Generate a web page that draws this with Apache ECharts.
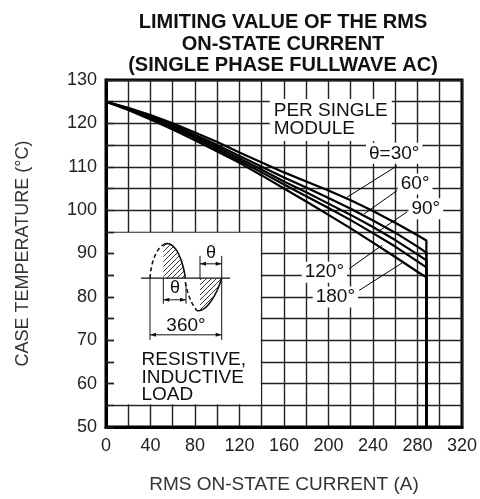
<!DOCTYPE html>
<html><head><meta charset="utf-8">
<script src="https://cdn.jsdelivr.net/npm/echarts@6/dist/echarts.min.js"></script>
<style>html,body{margin:0;padding:0;background:#fff}#c{width:480px;height:499px}</style>
</head><body><div id="c"></div>
<script>
const FONT = "'Liberation Sans', Arial, Helvetica, sans-serif";
const currents = [0,20,40,60,80,100,120,140,160,180,200,220,240,260,280,288];
const curve30  = [125,123.6,121.9,120.0,117.9,115.7,113.3,111.0,108.7,106.6,104.5,102.3,99.8,97.1,94.2,93.0];
const curve60  = [125,123.5,121.6,119.6,117.4,115.0,112.5,110.0,107.5,105.2,102.8,100.3,97.6,94.8,91.6,90.2];
const curve90  = [125,123.4,121.4,119.3,117.0,114.5,111.9,109.3,106.6,104.1,101.5,98.9,96.1,93.1,89.8,88.4];
const curve120 = [125,123.3,121.2,119.0,116.6,114.0,111.4,108.7,105.9,103.2,100.5,97.7,94.7,91.6,88.2,86.8];
const curve180 = [125,123.1,120.9,118.6,116.1,113.5,110.9,108.0,105.0,102.0,98.9,95.8,92.5,89.2,85.8,84.5];
const cutoffCurrent = 288;
const yMin = 50, yMax = 130, xMin = 0, xMax = 320;
const seriesNames = ['θ=30°','60°','90°','120°','180°'];
const seriesVals = [curve30, curve60, curve90, curve120, curve180];
// leader lines [labelEnd, curveEnd] in data coords
const leaders = [
  [[261.6,110.2],[216.8,103.0]],
  [[261.6,104.5],[232.0,99.1]],
  [[270.6,99.6],[245.5,95.2]],
  [[218.6,86.5],[248.2,91.9]],
  [[227.6,81.5],[266.1,87.8]]
];
// label centers in data coords
const labelPos = [[259.1,113.1],[277.9,106.0],[287.5,100.3],[196.3,85.7],[206.2,80.0]];

const chart = echarts.init(document.getElementById('c'));
const series = seriesVals.map((v,i)=>({
  name: seriesNames[i], type:'line', symbol:'none', z:5,
  lineStyle:{color:'#000', width:2.2},
  data: currents.map((x,j)=>[x, v[j]]).concat([[cutoffCurrent, yMin]])
}));
series.push({
  type:'line', data:[], z:6,
  markLine:{silent:true, symbol:['none','none'], label:{show:false},
    lineStyle:{color:'#000', width:1, type:'solid'},
    data: leaders.map(l=>[{coord:l[0]},{coord:l[1]}])}
});
chart.setOption({
  animation:false,
  backgroundColor:'#fff',
  title:{text:'LIMITING VALUE OF THE RMS\nON-STATE CURRENT\n(SINGLE PHASE FULLWAVE AC)',
    left:283, top:12, textAlign:'center', padding:0,
    textStyle:{fontFamily:FONT, fontWeight:'bold', fontSize:20, lineHeight:21.5, color:'#111'}},
  grid:{left:106, top:80, width:357, height:355, show:true, borderColor:'#000', borderWidth:3, backgroundColor:'#fff'},
  xAxis:{type:'value', min:xMin, max:xMax, interval:20,
    name:'RMS ON-STATE CURRENT (A)', nameLocation:'middle', nameGap:48,
    nameTextStyle:{fontFamily:FONT, fontSize:19, color:'#333'},
    axisLine:{lineStyle:{color:'#000', width:3}},
    axisTick:{show:false},
    axisLabel:{fontFamily:FONT, fontSize:18, color:'#222', margin:10,
      formatter:v=> (v%40===0 ? String(v) : '')},
    splitLine:{lineStyle:{color:'#222', width:1.4}}},
  yAxis:{type:'value', min:yMin, max:yMax, interval:5,
    name:'CASE TEMPERATURE (°C)', nameLocation:'middle', nameGap:74,
    nameTextStyle:{fontFamily:FONT, fontSize:18, color:'#333'},
    axisLine:{show:true, lineStyle:{color:'#000', width:3}},
    axisTick:{show:true, inside:true, length:8, lineStyle:{color:'#222', width:1.4}},
    axisLabel:{fontFamily:FONT, fontSize:18, color:'#222', margin:9,
      formatter:v=> (v%10===0 ? String(v) : '')},
    splitLine:{lineStyle:{color:'#222', width:1.4}}},
  series: series
});

function P(x,y){ return chart.convertToPixel({gridIndex:0},[x,y]); }
const g = [];
seriesNames.forEach((t,i)=>{
  const p = P(labelPos[i][0], labelPos[i][1]);
  g.push({type:'text', x:p[0], y:p[1], z:60, style:{text:t, fontFamily:FONT, fontSize:19, fill:'#111',
    align:'center', verticalAlign:'middle', backgroundColor:'#fff', padding:[1,3]}});
});
{
  const p = P(149, 125.6);
  g.push({type:'text', x:p[0]-2, y:p[1], z:60, style:{text:'PER SINGLE\nMODULE', fontFamily:FONT, fontSize:19, lineHeight:18, fill:'#111',
    align:'left', verticalAlign:'top', backgroundColor:'#fff', padding:[3,4,3,4]}});
}
// inset box
const b0 = P(0,95), b1 = P(140,55);
g.push({type:'rect', z:40, shape:{x:b0[0]+8, y:b0[1]+1, width:b1[0]-b0[0]-9, height:b1[1]-b0[1]-2}, style:{fill:'#fff'}});
const ox = b0[0], oy = b0[1];
function L(x1,y1,x2,y2,w,dash){ g.push({type:'line', z:45, shape:{x1:ox+x1,y1:oy+y1,x2:ox+x2,y2:oy+y2}, style:{stroke:'#111', lineWidth:w||1, lineDash:dash||null}}); }
function arrowDim(x1,x2,y){
  L(x1,y,x2,y,1);
  g.push({type:'polygon', z:46, shape:{points:[[ox+x1,oy+y],[ox+x1+6,oy+y-2],[ox+x1+6,oy+y+2]]}, style:{fill:'#111'}});
  g.push({type:'polygon', z:46, shape:{points:[[ox+x2,oy+y],[ox+x2-6,oy+y-2],[ox+x2-6,oy+y+2]]}, style:{fill:'#111'}});
}
function bez(p0,c1,c2,p3,n){
  const pts=[];
  for(let i=0;i<=n;i++){const t=i/n,u=1-t;
    pts.push([ox+u*u*u*p0[0]+3*u*u*t*c1[0]+3*u*t*t*c2[0]+t*t*t*p3[0], oy+u*u*u*p0[1]+3*u*u*t*c1[1]+3*u*t*t*c2[1]+t*t*t*p3[1]]);}
  return pts;
}
const pc = document.createElement('canvas'); pc.width=5; pc.height=5;
const cx = pc.getContext('2d'); cx.strokeStyle='#222'; cx.lineWidth=0.9;
cx.beginPath(); cx.moveTo(-1,6); cx.lineTo(6,-1); cx.stroke();
cx.beginPath(); cx.moveTo(-1,1); cx.lineTo(1,-1); cx.stroke();
cx.beginPath(); cx.moveTo(4,6); cx.lineTo(6,4); cx.stroke();
const hatch = {image: pc, repeat:'repeat'};
const by = 46.4;
const posA = bez([58,12.5],[64,9.5],[71,16],[75,28],12);
const posB = bez([75,28],[77.5,35.5],[78.7,41],[79.3,by],8);
const posPts = posA.concat(posB.slice(1));
const negPts = bez([91,79],[100,80],[110,65],[115.7,by],14);
g.push({type:'polygon', z:44, shape:{points:[[ox+57.3,oy+by],[ox+57.3,oy+13]].concat(posPts)}, style:{fill:hatch}});
const negHatch = negPts.filter(p=>p[0]>=ox+94);
g.push({type:'polygon', z:44, shape:{points:[[ox+94,oy+by],[ox+94,oy+79.3]].concat(negHatch)}, style:{fill:hatch}});
g.push({type:'polyline', z:45, shape:{points:bez([44,by],[45,31],[50,16.5],[58,12.5],12)}, style:{stroke:'#111', fill:null, lineWidth:1.6, lineDash:[4,3]}});
g.push({type:'polyline', z:45, shape:{points:posPts}, style:{stroke:'#111', fill:null, lineWidth:1.6}});
g.push({type:'polyline', z:45, shape:{points:bez([79.3,by+4],[81,60],[85,72],[91,79],10)}, style:{stroke:'#111', fill:null, lineWidth:1.6, lineDash:[4,3]}});
g.push({type:'polyline', z:45, shape:{points:negPts}, style:{stroke:'#111', fill:null, lineWidth:1.6}});
L(35,by,124,by,1.2);
L(44,by,44,108,1);
L(57.3,by,57.3,72,1);
L(80,52,80,72,1);
L(94,24,94,by,1);
L(115.7,24,115.7,108,1);
arrowDim(94,115.7,32);
arrowDim(57.3,80,68);
arrowDim(44,115.7,103);
g.push({type:'text', z:46, x:ox+105, y:oy+21, style:{text:'θ', fontFamily:FONT, fontSize:18, fill:'#111', align:'center', verticalAlign:'middle'}});
g.push({type:'text', z:46, x:ox+69, y:oy+56, style:{text:'θ', fontFamily:FONT, fontSize:18, fill:'#111', align:'center', verticalAlign:'middle'}});
g.push({type:'text', z:46, x:ox+80, y:oy+94, style:{text:'360°', fontFamily:FONT, fontSize:19, fill:'#111', align:'center', verticalAlign:'middle'}});
g.push({type:'text', z:46, x:ox+35.5, y:oy+119.5, style:{text:'RESISTIVE,\nINDUCTIVE\nLOAD', fontFamily:FONT, fontSize:19, lineHeight:17.5, fill:'#111', align:'left', verticalAlign:'top'}});
chart.setOption({graphic:{elements:g}});
</script></body></html>
